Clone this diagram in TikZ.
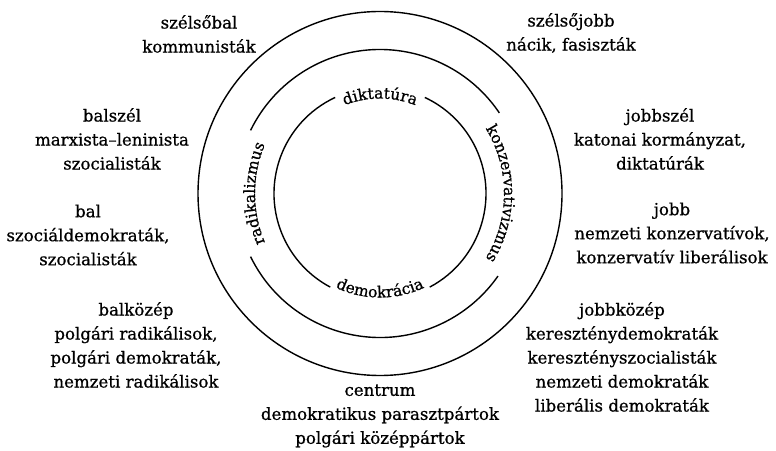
\documentclass[tikz,border=0pt]{standalone}
\usepackage{fontspec}
\setmainfont{DejaVu Serif}[FakeBold=0.8]
\usetikzlibrary{decorations.text}
\newcommand\arcfont{\fontsize{15.5}{18}\selectfont}
\tikzset{
  lbl/.style={align=center, inner sep=0pt, font=\fontsize{16.6}{24}\selectfont},
  ring/.style={line width=1.4pt},
  arctext/.style={decorate, decoration={text along path, text align=center, text={#1}}}
}
\begin{document}
\begin{tikzpicture}[x=1pt,y=1pt]
\useasboundingbox (0,0) rectangle (776,450);
\coordinate (O) at (380,256.5);
% outer circle
\draw[ring] (O) circle[radius=182];
% middle circle with gaps
\draw[ring] (O) ++(34:144) arc[start angle=34, end angle=154, radius=144];
\draw[ring] (O) ++(206:144) arc[start angle=206, end angle=325, radius=144];
% inner circle with gaps
\draw[ring] (O) ++(115:106) arc[start angle=115, end angle=242, radius=106];
\draw[ring] (O) ++(298:106) arc[start angle=298, end angle=425, radius=106];
% texts on the rings
\path[arctext={|\arcfont|diktatúra}] (O) ++(140:95) arc[start angle=140, end angle=40, radius=95];
\path[arctext={|\arcfont|demokrácia}] (O) ++(220:104) arc[start angle=220, end angle=320, radius=104];
\path[arctext={|\arcfont|radikalizmus}] (O) ++(235:125) arc[start angle=235, end angle=125, radius=125];
\path[arctext={|\arcfont|konzervativizmus}] (O) ++(60:124) arc[start angle=60, end angle=-60, radius=124];
% labels
\node[lbl] (szb) at (199,416) {szélsőbal\\kommunisták};
\node[lbl] (bsz) at (112,311) {balszél\\marxista–leninista\\szocialisták};
\node[lbl] (bal) at (88,215) {bal\\szociáldemokraták,\\szocialisták};
\node[lbl] (bk) at (136,105) {balközép\\polgári radikálisok,\\polgári demokraták,\\nemzeti radikálisok};
\node[lbl] (cen) at (380,34) {centrum\\demokratikus parasztpártok\\polgári középpártok};
\node[lbl] (szj) at (571,417) {szélsőjobb\\nácik, fasiszták};
\node[lbl] (jsz) at (660,311) {jobbszél\\katonai kormányzat,\\diktatúrák};
\node[lbl] (jobb) at (672,217) {jobb\\nemzeti konzervatívok,\\konzervatív liberálisok};
\node[lbl] (jk) at (622,93) {jobbközép\\kereszténydemokraták\\keresztényszocialisták\\nemzeti demokraták\\liberális demokraták};
\end{tikzpicture}
\end{document}
